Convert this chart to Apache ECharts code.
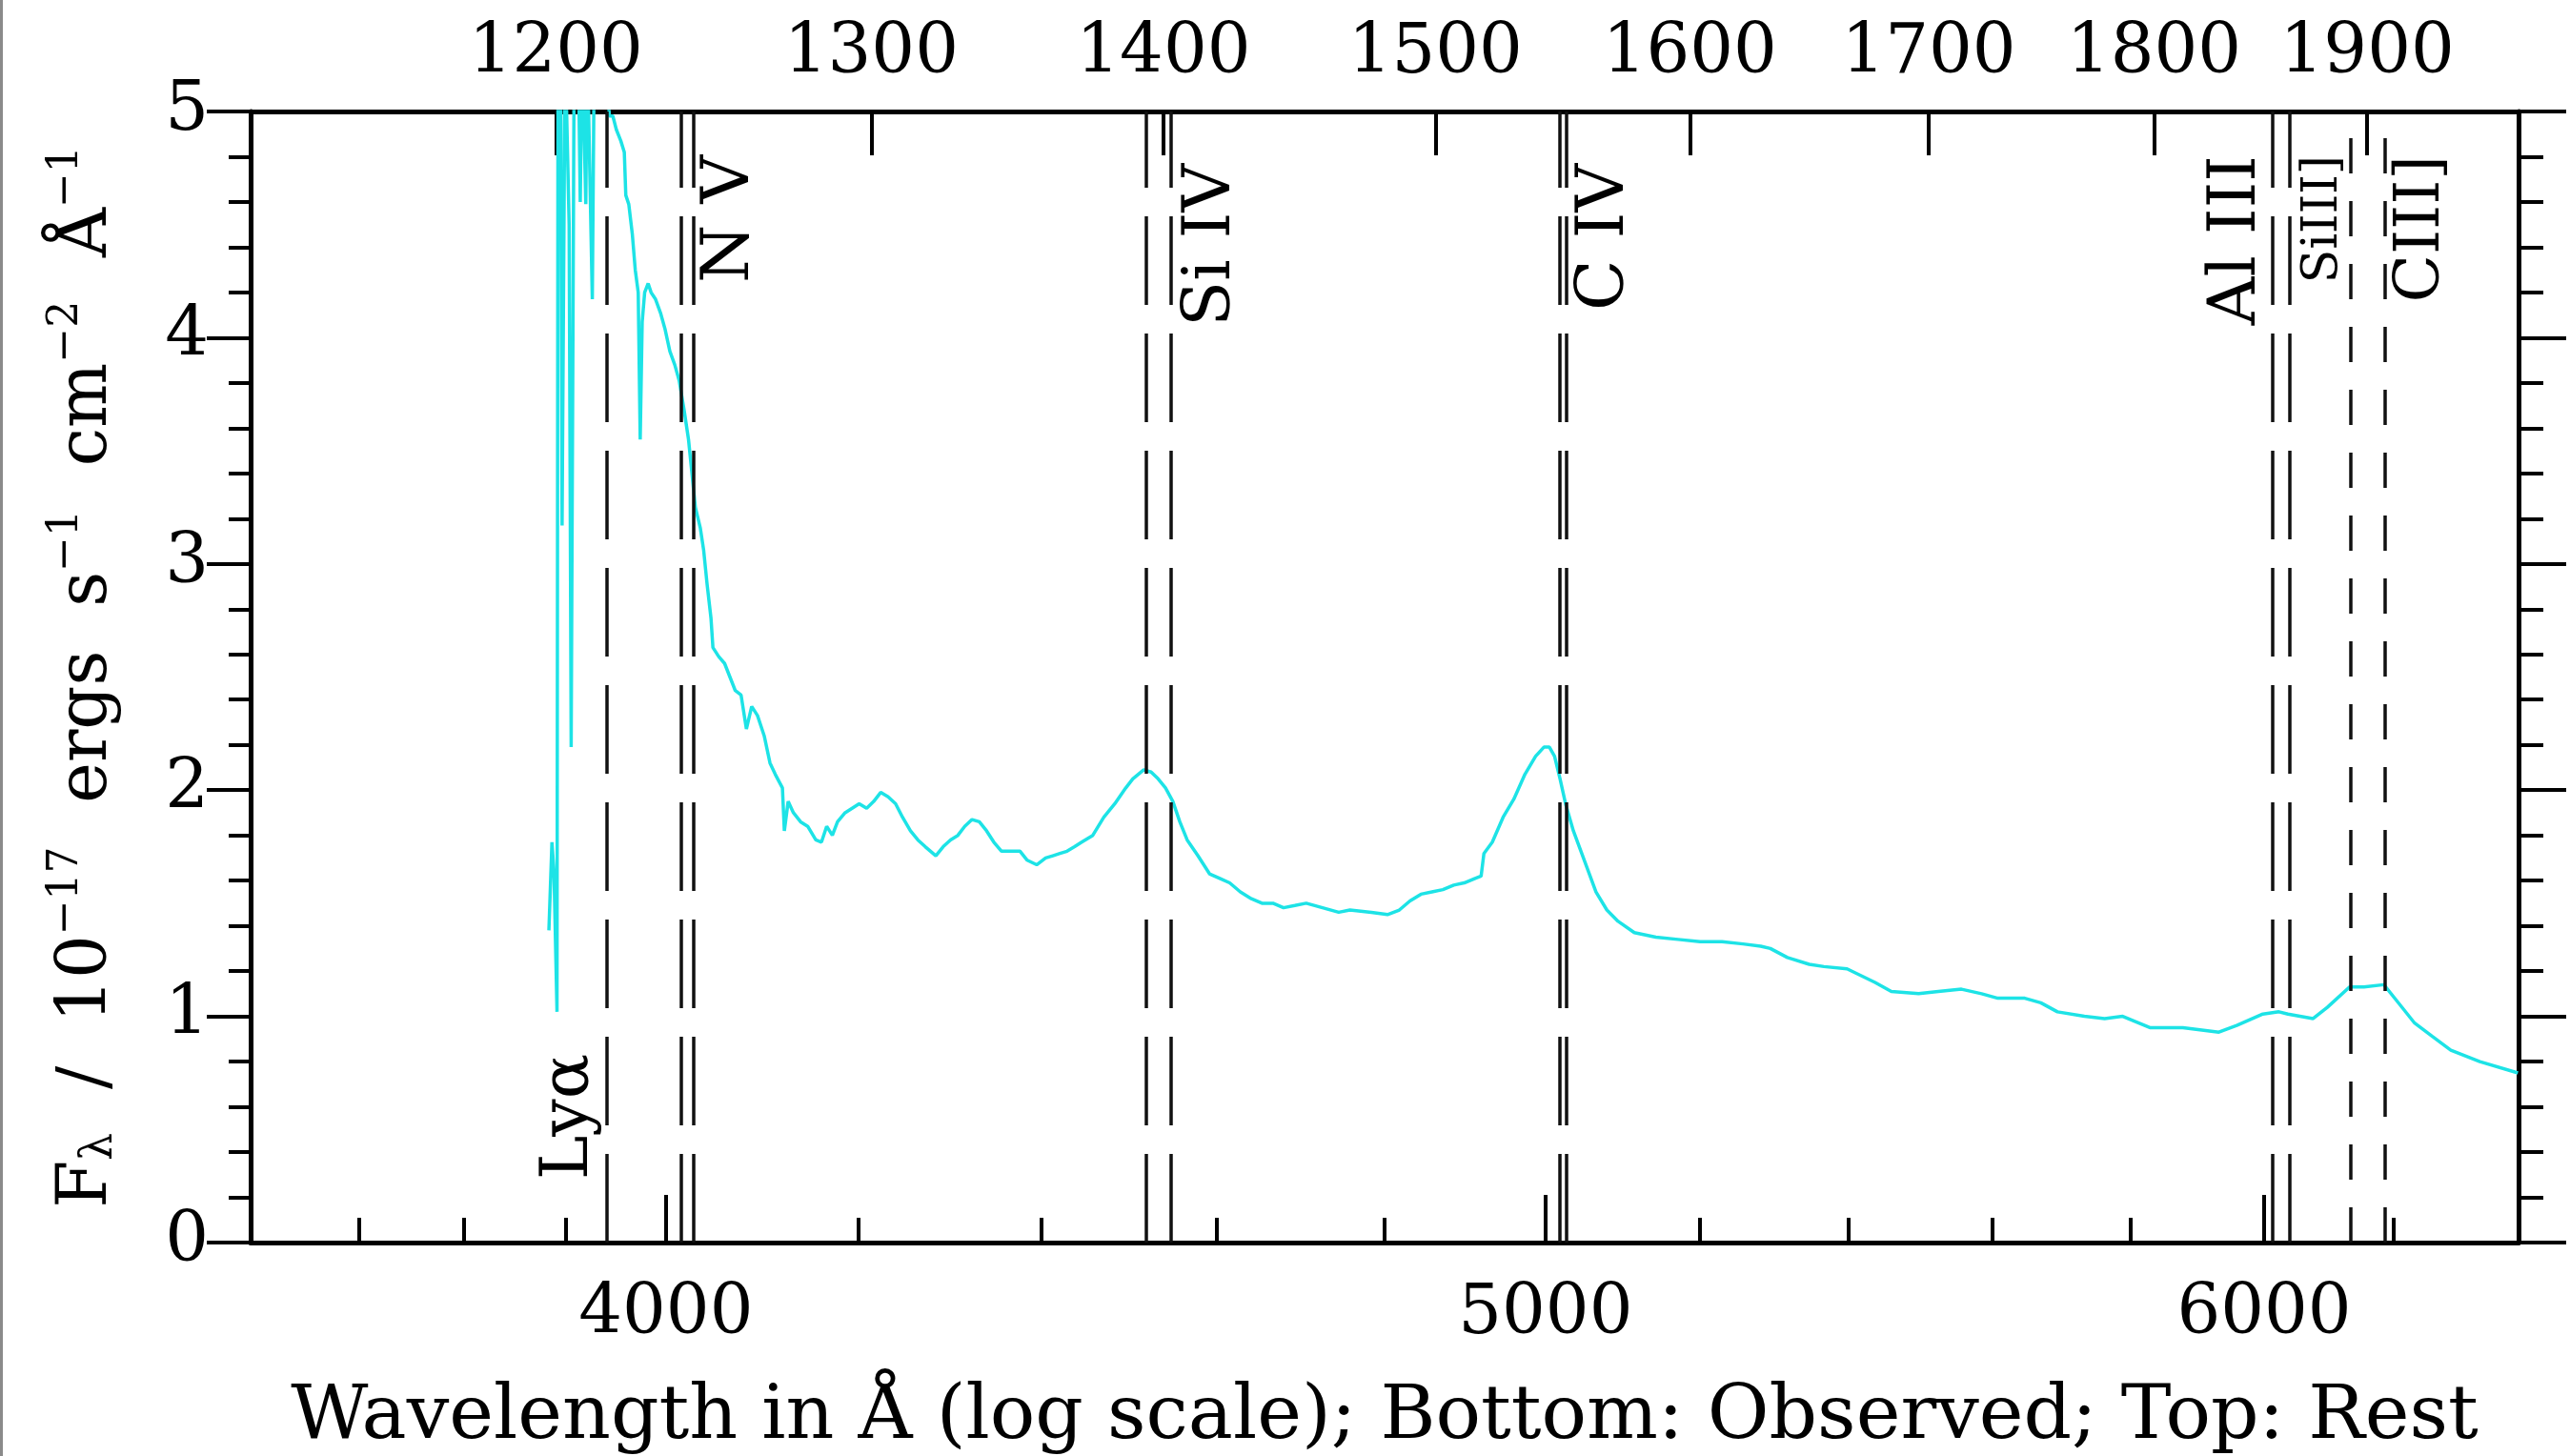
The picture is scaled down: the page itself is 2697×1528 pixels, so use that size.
<!DOCTYPE html>
<html>
<head>
<meta charset="utf-8">
<script src="https://cdn.jsdelivr.net/npm/echarts@6/dist/echarts.min.js"></script>
<style>
  html, body { margin: 0; padding: 0; background: #fff; }
  #chart { width: 2697px; height: 1528px; }
</style>
</head>
<body>
<div id="chart"></div>
<script>
// redshift of the quasar, observed = rest * (1 + z)
const REDSHIFT = 2.2415;

// observed wavelength (Angstrom) and flux (1e-17 erg/s/cm2/A)
const obsWave = [
  3883, 3886, 3888, 3891, 3892, 3894.5, 3896, 3899, 3903, 3905,
  3908, 3912, 3914, 3916, 3919.5, 3921, 3926, 3928, 3933.5, 3939,
  3943, 3946.5, 3950, 3954.5, 3958, 3959.5, 3962.5, 3966, 3969, 3972,
  3974, 3976, 3978.5, 3982, 3985, 3989.5, 3994.5, 3999, 4004, 4009,
  4013.5, 4018.5, 4023, 4026.5, 4030, 4035, 4038.5, 4042, 4046, 4048,
  4054, 4060, 4065.5, 4071, 4077, 4082.5, 4088, 4094, 4101, 4107,
  4112.5, 4120, 4122, 4126, 4131.5, 4139, 4146.5, 4155, 4161, 4166.5,
  4172.5, 4178, 4186, 4193.5, 4201, 4209, 4216.5, 4224, 4232, 4240,
  4247.5, 4256, 4264, 4272, 4283.5, 4291.5, 4299.5, 4307.5, 4315, 4323,
  4331, 4339, 4347, 4355.5, 4368, 4376, 4384, 4394.5, 4404.5, 4412.5,
  4420.5, 4428.5, 4437, 4445, 4457.5, 4470, 4482.5, 4495, 4503, 4515.5,
  4524, 4532, 4540.5, 4549, 4557, 4565.5, 4578, 4591.5, 4603.5, 4615,
  4627.5, 4640.5, 4653, 4666, 4678.5, 4692, 4705.5, 4725, 4744.5, 4758,
  4784, 4803.5, 4818, 4831, 4844.5, 4858, 4871.5, 4885, 4898, 4911.5,
  4919, 4922.5, 4933, 4946.5, 4960, 4974, 4987.5, 4998, 5005, 5011.5,
  5018.5, 5025.5, 5035.5, 5050.5, 5064.5, 5078.5, 5093, 5114, 5142, 5171,
  5200, 5229, 5257, 5280.5, 5293.5, 5316.5, 5346, 5366, 5397.5, 5436,
  5458.5, 5496.5, 5524, 5556.5, 5585, 5608, 5646.5, 5669.5, 5693.5, 5732.5,
  5762, 5788.5, 5828.5, 5877.5, 5931.5, 5958.5, 5998, 6022.5, 6036.5, 6075,
  6097, 6131.5, 6154, 6185, 6205, 6233.5, 6262, 6291, 6337.5, 6399
];
const fluxValues = [
  1.38, 1.77, 1.64, 1.02, 5.3, 5.3, 3.17, 5.3, 4.5, 2.19,
  5.3, 5.3, 4.60, 5.3, 4.59, 5.3, 4.17, 5.3, 5.3, 5.3,
  4.98, 4.98, 4.92, 4.87, 4.82, 4.63, 4.59, 4.46, 4.30, 4.20,
  3.55, 4.07, 4.20, 4.24, 4.20, 4.17, 4.11, 4.04, 3.94, 3.88,
  3.81, 3.68, 3.55, 3.40, 3.25, 3.16, 3.06, 2.91, 2.76, 2.63,
  2.59, 2.56, 2.50, 2.44, 2.42, 2.27, 2.37, 2.33, 2.24, 2.12,
  2.07, 2.01, 1.82, 1.95, 1.90, 1.86, 1.84, 1.78, 1.77, 1.84,
  1.80, 1.86, 1.90, 1.92, 1.94, 1.92, 1.95, 1.99, 1.97, 1.94,
  1.88, 1.82, 1.78, 1.75, 1.71, 1.75, 1.78, 1.80, 1.84, 1.87,
  1.86, 1.82, 1.77, 1.73, 1.73, 1.73, 1.69, 1.67, 1.70, 1.71,
  1.72, 1.73, 1.75, 1.77, 1.80, 1.88, 1.94, 2.01, 2.05, 2.09,
  2.08, 2.05, 2.01, 1.95, 1.86, 1.78, 1.71, 1.63, 1.61, 1.59,
  1.55, 1.52, 1.50, 1.50, 1.48, 1.49, 1.50, 1.48, 1.46, 1.47,
  1.46, 1.45, 1.47, 1.51, 1.54, 1.55, 1.56, 1.58, 1.59, 1.61,
  1.62, 1.72, 1.77, 1.88, 1.96, 2.07, 2.15, 2.19, 2.19, 2.15,
  2.05, 1.94, 1.82, 1.68, 1.55, 1.47, 1.42, 1.37, 1.35, 1.34,
  1.33, 1.33, 1.32, 1.31, 1.30, 1.26, 1.23, 1.22, 1.21, 1.15,
  1.11, 1.10, 1.11, 1.12, 1.10, 1.08, 1.08, 1.06, 1.02, 1.00,
  0.99, 1.00, 0.95, 0.95, 0.93, 0.96, 1.01, 1.02, 1.01, 0.99,
  1.04, 1.13, 1.13, 1.14, 1.07, 0.97, 0.91, 0.85, 0.80, 0.75
];

// axis ticks
const obsMajorTicks = [4000, 5000, 6000];
const obsMinorTicks = [3700, 3800, 3900, 4200, 4400, 4600, 4800, 5200, 5400, 5600, 5800, 6200];
const restTicks = [1200, 1300, 1400, 1500, 1600, 1700, 1800, 1900];

// emission lines (rest wavelength)
const lineNames = ['Lyα', 'N V', 'Si IV', 'C IV', 'Al III', 'SiIII]', 'CIII]'];
const lineRestWaves = [
  [1215.67],
  [1238.82, 1242.80],
  [1393.76, 1402.77],
  [1548.20, 1550.77],
  [1854.72, 1862.79],
  [1892.03],
  [1908.73]
];

const FONT = 'DejaVu Serif';
const lg = Math.log10;
const X_MIN = lg(3600), X_MAX = lg(6400);

// where each line's label goes (style only)
const LONG_DASH = [93, 30], SHORT_DASH = [37, 29];
const linePlacement = [
  { on: 0, position: 'insideStartTop', distance: [66, 4], dash: LONG_DASH },
  { on: 1, position: 'insideEndBottom', distance: [46, 4], dash: LONG_DASH },
  { on: 1, position: 'insideEndBottom', distance: [55, 8], dash: LONG_DASH },
  { on: 1, position: 'insideEndBottom', distance: [55, 6], dash: LONG_DASH },
  { on: 0, position: 'insideEndTop', distance: [46, 2], dash: LONG_DASH },
  { on: 0, position: 'insideEndTop', distance: [46, 2], dash: SHORT_DASH, size: 52 },
  { on: 0, position: 'insideEndBottom', distance: [46, 6], dash: SHORT_DASH, size: 66 }
];

const markData = [];
lineRestWaves.forEach((group, gi) => {
  const p = linePlacement[gi];
  group.forEach((rest, li) => {
    const x = lg(rest * (1 + REDSHIFT));
    markData.push([
      {
        coord: [x, 0],
        lineStyle: { type: p.dash },
        label: li === p.on
          ? { show: true, formatter: lineNames[gi], position: p.position, distance: p.distance, fontSize: p.size || 70 }
          : { show: false }
      },
      { coord: [x, 5] }
    ]);
  });
});

const axisLine = { show: true, lineStyle: { color: '#000', width: 5 } };
const tickStyle = { color: '#000', width: 4 };
const labelBase = { color: '#000', fontFamily: FONT, fontSize: 72 };

const yName = '{t|F}{sub|λ}{t|  /  10}{sup|−17}{t|  ergs  s}{sup|−1}{t|  cm}{sup|−2}{t|  Å}{sup|−1}';

const chart = echarts.init(document.getElementById('chart'));
chart.setOption({
  backgroundColor: '#fff',
  animation: false,
  graphic: [{
    type: 'rect', left: 0, top: 0,
    shape: { width: 3, height: 1528 },
    style: { fill: '#8a8a8a' }
  }],
  grid: { left: 263, right: 54, top: 117, bottom: 224, containLabel: false, outerBoundsMode: 'none' },
  xAxis: [
    {
      // bottom: observed wavelength, major ticks + labels
      type: 'value', position: 'bottom', min: X_MIN, max: X_MAX,
      axisLine: axisLine,
      axisTick: { inside: true, length: 50, lineStyle: tickStyle, customValues: obsMajorTicks.map(lg) },
      axisLabel: Object.assign({}, labelBase, {
        margin: 40, customValues: obsMajorTicks.map(lg),
        formatter: v => String(Math.round(Math.pow(10, v)))
      }),
      splitLine: { show: false },
      name: 'Wavelength in Å (log scale); Bottom: Observed; Top: Rest',
      nameLocation: 'middle', nameGap: 145, nameMoveOverlap: false,
      nameTextStyle: { color: '#000', fontFamily: FONT, fontSize: 79 }
    },
    {
      // bottom: minor ticks only
      type: 'value', position: 'bottom', min: X_MIN, max: X_MAX,
      axisLine: { show: false },
      axisTick: { inside: true, length: 26, lineStyle: tickStyle, customValues: obsMinorTicks.map(lg) },
      axisLabel: { show: false },
      splitLine: { show: false }
    },
    {
      // top: rest-frame wavelength
      type: 'value', position: 'top', min: X_MIN, max: X_MAX,
      axisLine: axisLine,
      axisTick: { inside: true, length: 46, lineStyle: tickStyle, customValues: restTicks.map(r => lg(r * (1 + REDSHIFT))) },
      axisLabel: Object.assign({}, labelBase, {
        margin: 24, customValues: restTicks.map(r => lg(r * (1 + REDSHIFT))),
        formatter: v => String(Math.round(Math.pow(10, v) / (1 + REDSHIFT)))
      }),
      splitLine: { show: false }
    }
  ],
  yAxis: [
    {
      type: 'value', position: 'left', min: 0, max: 5, interval: 1,
      axisLine: axisLine,
      axisTick: { length: 46, lineStyle: tickStyle },
      minorTick: { show: true, splitNumber: 5, length: 23, lineStyle: tickStyle },
      axisLabel: Object.assign({}, labelBase, { margin: 44 }),
      splitLine: { show: false },
      minorSplitLine: { show: false },
      name: yName, nameLocation: 'middle', nameRotate: 90, nameGap: 135, nameMoveOverlap: false,
      nameTextStyle: {
        color: '#000', fontFamily: FONT,
        rich: {
          t: { fontFamily: FONT, fontSize: 72, lineHeight: 80, verticalAlign: 'bottom', color: '#000' },
          sup: { fontFamily: FONT, fontSize: 44, lineHeight: 44, verticalAlign: 'top', color: '#000' },
          sub: { fontFamily: FONT, fontSize: 46, lineHeight: 46, verticalAlign: 'bottom', color: '#000' }
        }
      }
    },
    {
      type: 'value', position: 'right', min: 0, max: 5, interval: 1,
      axisLine: axisLine,
      axisTick: { length: 50, lineStyle: tickStyle },
      minorTick: { show: true, splitNumber: 5, length: 26, lineStyle: tickStyle },
      axisLabel: { show: false },
      splitLine: { show: false },
      minorSplitLine: { show: false }
    }
  ],
  series: [{
    type: 'line',
    xAxisIndex: 0, yAxisIndex: 0,
    data: obsWave.map((w, i) => [lg(w), fluxValues[i]]),
    showSymbol: false,
    clip: true,
    silent: true,
    lineStyle: { color: '#1de3e6', width: 3.5 },
    markLine: {
      silent: true,
      animation: false,
      symbol: ['none', 'none'],
      lineStyle: { color: '#111', width: 3.5 },
      label: { color: '#000', fontFamily: FONT, fontSize: 70 },
      emphasis: { disabled: true },
      data: markData
    }
  }]
});
</script>
</body>
</html>
